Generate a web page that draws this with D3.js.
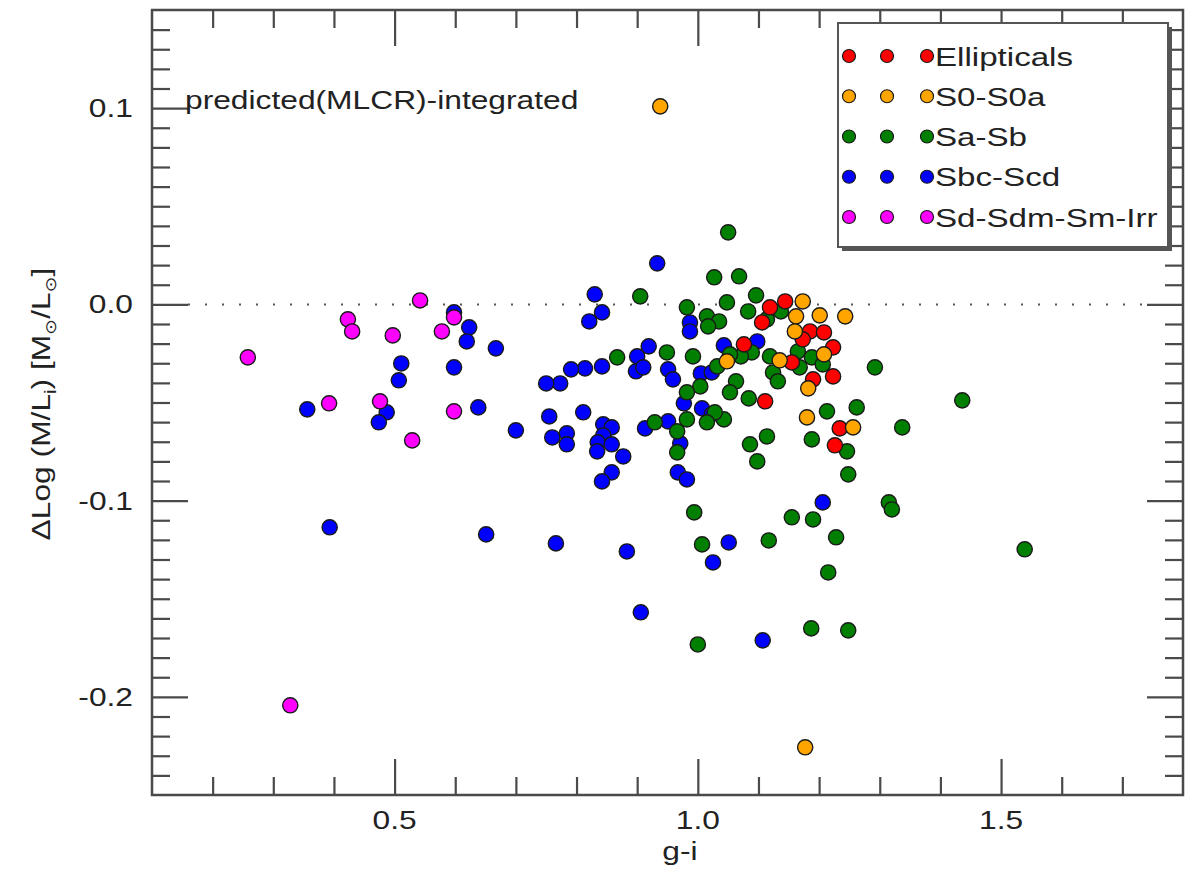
<!DOCTYPE html>
<html><head><meta charset="utf-8">
<script src="https://cdn.jsdelivr.net/npm/d3@7"></script>
<style>body{margin:0;background:#fff} svg{display:block}</style>
</head><body>
<svg id="chart" width="1200" height="870"></svg>
<script>
// ---- data ----
const categories = ["Ellipticals","S0-S0a","Sa-Sb","Sbc-Scd","Sd-Sdm-Sm-Irr"];
const colors = ["#ff0000","#ffa500","#007f00","#0000ff","#ff00ff"];

const ellX = [1.144,1.119,1.106,1.185,1.208,1.223,1.076,1.223,1.190,1.155,1.111,1.234,1.226,1.173];
const ellY = [0.0015,-0.0015,-0.0092,-0.0138,-0.0143,-0.0219,-0.0204,-0.0367,-0.0382,-0.0296,-0.0494,-0.0632,-0.0718,-0.0178];

const s0X = [0.938,1.177,1.173,1.162,1.201,1.243,1.160,1.135,1.208,1.182,1.180,1.048,1.256];
const s0Y = [0.1009,-0.2257,0.0015,-0.0061,-0.0056,-0.0061,-0.0138,-0.0285,-0.0255,-0.0428,-0.0576,-0.029,-0.0627];

const saX = [1.050,1.027,1.068,0.905,1.048,1.096,0.982,1.015,1.035,1.017,1.083,1.114,1.137,0.867,0.949,0.992,1.089,1.071,1.053,1.119,1.124,1.132,1.063,1.053,1.004,0.982,0.982,1.084,1.043,1.028,0.929,0.966,1.015,1.114,1.086,1.165,1.188,1.168,1.206,1.213,1.188,1.292,1.436,1.262,1.337,1.246,1.248,0.966,1.098,1.315,1.320,1.155,1.190,0.994,1.007,1.117,1.228,1.215,1.000,1.187,1.248,1.539,1.032];
const saY = [0.0367,0.0138,0.0143,0.0041,0.001,0.0046,-0.0015,-0.0061,-0.0087,-0.0112,-0.0036,-0.0076,-0.0036,-0.027,-0.0245,-0.0265,-0.0245,-0.0265,-0.0255,-0.0265,-0.0347,-0.0392,-0.0392,-0.0448,-0.0418,-0.0448,-0.0586,-0.0479,-0.0586,-0.055,-0.0601,-0.0647,-0.0601,-0.0673,-0.0713,-0.024,-0.027,-0.0321,-0.0306,-0.0545,-0.0688,-0.0321,-0.0489,-0.0525,-0.0627,-0.0749,-0.0866,-0.0754,-0.08,-0.1009,-0.1045,-0.1085,-0.1096,-0.106,-0.1223,-0.1203,-0.1187,-0.1366,-0.1733,-0.1651,-0.1661,-0.1248,-0.0316];

const sbcX = [0.356,0.393,0.511,0.507,0.487,0.474,0.598,0.623,0.619,0.667,0.598,0.638,0.700,0.651,0.933,0.830,0.842,0.821,0.987,0.987,1.043,1.098,0.919,0.900,0.898,0.910,0.842,0.814,0.791,0.773,0.750,0.951,0.959,1.005,1.023,0.977,1.007,1.023,0.755,0.811,0.760,0.784,0.784,0.844,0.858,0.844,0.835,0.858,0.834,0.877,0.858,0.842,0.913,0.951,0.971,0.967,0.982,1.206,0.766,0.883,1.051,1.025,0.906,1.107];
const sbcY = [-0.0535,-0.1136,-0.0301,-0.0387,-0.055,-0.0601,-0.0041,-0.0117,-0.0189,-0.0224,-0.0321,-0.0525,-0.0642,-0.1172,0.0209,0.0051,-0.0041,-0.0087,-0.0092,-0.0138,-0.0209,-0.0189,-0.0214,-0.0265,-0.0341,-0.0321,-0.0316,-0.0326,-0.0331,-0.0403,-0.0403,-0.0331,-0.0382,-0.0352,-0.0347,-0.0504,-0.053,-0.0561,-0.0571,-0.055,-0.0678,-0.0657,-0.0713,-0.0611,-0.0627,-0.0668,-0.0703,-0.0713,-0.0749,-0.0775,-0.0856,-0.0902,-0.0632,-0.0596,-0.0708,-0.0856,-0.0892,-0.1009,-0.1218,-0.1259,-0.1213,-0.1315,-0.1569,-0.1712];

const sdX = [0.258,0.392,0.423,0.430,0.476,0.497,0.529,0.542,0.578,0.598,0.598,0.328];
const sdY = [-0.027,-0.0504,-0.0076,-0.0138,-0.0494,-0.0158,-0.0693,0.002,-0.0138,-0.0066,-0.0545,-0.2043];

const xMajor = [0.5,1.0,1.5];
const xMajorLabels = ["0.5","1.0","1.5"];
const yMajor = [-0.2,-0.1,0.0,0.1];
const yMajorLabels = ["-0.2","-0.1","0.0","0.1"];
const xDomain = [0.1,1.8];
const yDomain = [-0.25,0.15];
const annotation = "predicted(MLCR)-integrated";

// ---- layout ----
const L = 152, R = 1183, T = 10, B = 795;
const svg = d3.select("#chart");
const x = d3.scaleLinear().domain(xDomain).range([L, R]);
const y = d3.scaleLinear().domain(yDomain).range([B, T]);
const axisColor = "#4a4a4a";
const textColor = "#222";
const FONT = "'Liberation Sans', Arial, Helvetica, sans-serif";
const SX = 1.27;

const xMinor = d3.range(2, 18).map(d => d/10).filter(v => !xMajor.some(m => Math.abs(m - v) < 1e-6));
const yMinor = d3.range(-24, 15).map(d => d/100).filter(v => !yMajor.some(m => Math.abs(m - v) < 1e-6));

function drawAxis(axisFn, scale, vals, size, transform) {
  const g = svg.append("g").attr("transform", transform)
    .call(axisFn(scale).tickValues(vals).tickSizeInner(-size).tickSizeOuter(0).tickFormat(""));
  g.select(".domain").remove();
  g.selectAll(".tick line").attr("stroke", axisColor).attr("stroke-width", 2.2);
}
drawAxis(d3.axisBottom, x, xMajor, 36, `translate(0,${B})`);
drawAxis(d3.axisBottom, x, xMinor, 18, `translate(0,${B})`);
drawAxis(d3.axisTop, x, xMajor, 36, `translate(0,${T})`);
drawAxis(d3.axisTop, x, xMinor, 18, `translate(0,${T})`);
drawAxis(d3.axisLeft, y, yMajor, 36, `translate(${L},0)`);
drawAxis(d3.axisLeft, y, yMinor, 18, `translate(${L},0)`);
drawAxis(d3.axisRight, y, yMajor, 36, `translate(${R},0)`);
drawAxis(d3.axisRight, y, yMinor, 18, `translate(${R},0)`);

// frame
svg.append("rect").attr("x", L).attr("y", T).attr("width", R - L).attr("height", B - T)
  .attr("fill", "none").attr("stroke", axisColor).attr("stroke-width", 2.5);

// zero dotted line
svg.append("line").attr("x1", L + 36).attr("x2", R - 36).attr("y1", y(0)).attr("y2", y(0))
  .attr("stroke", "#555").attr("stroke-width", 2).attr("stroke-dasharray", "2,15");

// tick labels
xMajor.forEach((v, i) => {
  svg.append("text").attr("transform", `translate(${x(v)},829) scale(${SX},1)`)
    .attr("text-anchor", "middle").attr("font-family", FONT).attr("font-size", 25)
    .attr("fill", textColor).text(xMajorLabels[i]);
});
yMajor.forEach((v, i) => {
  svg.append("text").attr("transform", `translate(133,${y(v) + 9}) scale(${SX},1)`)
    .attr("text-anchor", "end").attr("font-family", FONT).attr("font-size", 25)
    .attr("fill", textColor).text(yMajorLabels[i]);
});

// axis titles
svg.append("text").attr("transform", `translate(680,860) scale(${SX},1)`)
  .attr("text-anchor", "middle").attr("font-family", FONT).attr("font-size", 25)
  .attr("fill", textColor).text("g-i");

const yt = svg.append("text").attr("transform", `translate(50,404) rotate(-90) scale(${SX},1)`)
  .attr("text-anchor", "middle").attr("font-family", FONT).attr("font-size", 25).attr("fill", textColor);
yt.append("tspan").text("\u0394Log (M/L");
yt.append("tspan").attr("font-size", 16).attr("dy", 6).text("i");
yt.append("tspan").attr("dy", -6).text(") [M");
yt.append("tspan").attr("font-size", 15).attr("dy", 6).attr("font-family", "'DejaVu Sans'").text("\u2299");
yt.append("tspan").attr("dy", -6).text("/L");
yt.append("tspan").attr("font-size", 15).attr("dy", 6).attr("font-family", "'DejaVu Sans'").text("\u2299");
yt.append("tspan").attr("dy", -6).text("]");

// annotation
svg.append("text").attr("transform", `translate(185,109) scale(${SX},1)`)
  .attr("font-family", FONT).attr("font-size", 25).attr("fill", textColor).text(annotation);

// ---- points ----
const series = [
  {name: categories[3], color: colors[3], xs: sbcX, ys: sbcY},
  {name: categories[2], color: colors[2], xs: saX, ys: saY},
  {name: categories[0], color: colors[0], xs: ellX, ys: ellY},
  {name: categories[1], color: colors[1], xs: s0X, ys: s0Y},
  {name: categories[4], color: colors[4], xs: sdX, ys: sdY}
];
series.forEach(s => {
  const pts = s.xs.map((v, i) => ({x: v, y: s.ys[i]}));
  svg.append("g").selectAll("circle").data(pts).join("circle")
    .attr("cx", d => x(d.x)).attr("cy", d => y(d.y)).attr("r", 7.6)
    .attr("fill", s.color).attr("stroke", "#1a1a1a").attr("stroke-width", 1.4);
});

// ---- legend ----
const lg = svg.append("g");
lg.append("rect").attr("x", 842).attr("y", 27).attr("width", 330).attr("height", 224).attr("fill", "#555");
lg.append("rect").attr("x", 838).attr("y", 23).attr("width", 330).attr("height", 224)
  .attr("fill", "#fff").attr("stroke", "#555").attr("stroke-width", 2);
const rowY = d3.scalePoint().domain(categories).range([56, 217]);
categories.forEach((c, i) => {
  [849, 887, 927].forEach(cx => {
    lg.append("circle").attr("cx", cx).attr("cy", rowY(c)).attr("r", 6.5)
      .attr("fill", colors[i]).attr("stroke", "#1a1a1a").attr("stroke-width", 1.2);
  });
  lg.append("text").attr("transform", `translate(935,${rowY(c) + 9.5}) scale(1.25,1)`)
    .attr("font-family", FONT).attr("font-size", 26.5).attr("fill", textColor).text(c);
});
</script>
</body></html>
